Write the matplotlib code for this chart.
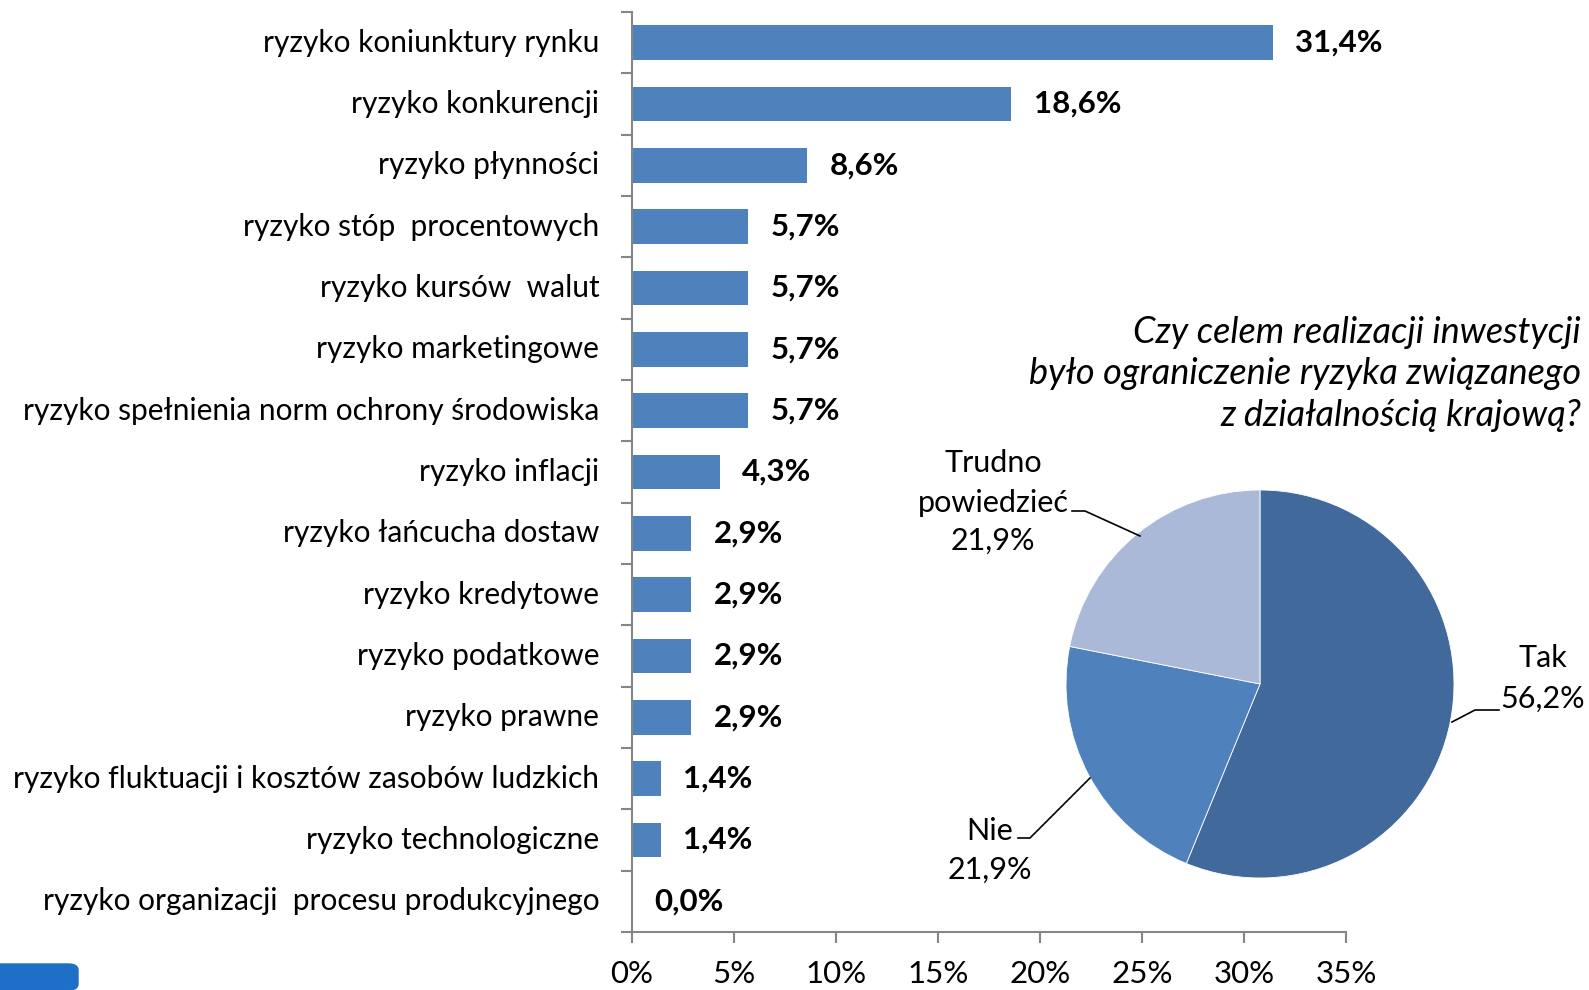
import matplotlib.pyplot as plt
from matplotlib.patches import FancyBboxPatch
import numpy as np

plt.rcParams['font.family'] = ['Lato', 'DejaVu Sans']

# bar chart data (top to bottom)
categories = [
    "ryzyko koniunktury rynku",
    "ryzyko konkurencji",
    "ryzyko płynności",
    "ryzyko stóp  procentowych",
    "ryzyko kursów  walut",
    "ryzyko marketingowe",
    "ryzyko spełnienia norm ochrony środowiska",
    "ryzyko inflacji",
    "ryzyko łańcucha dostaw",
    "ryzyko kredytowe",
    "ryzyko podatkowe",
    "ryzyko prawne",
    "ryzyko fluktuacji i kosztów zasobów ludzkich",
    "ryzyko technologiczne",
    "ryzyko organizacji  procesu produkcyjnego",
]
values = [31.4, 18.6, 8.6, 5.7, 5.7, 5.7, 5.7, 4.3, 2.9, 2.9, 2.9, 2.9, 1.4, 1.4, 0.0]
xticks = [0, 5, 10, 15, 20, 25, 30, 35]

# pie data
pie_labels = ["Tak", "Nie", "Trudno\npowiedzieć"]
pie_values = [56.2, 21.9, 21.9]
pie_colors = ["#41699C", "#4F81BD", "#AAB9D7"]
pie_title = "Czy celem realizacji inwestycji\nbyło ograniczenie ryzyka związanego\nz działalnością krajową?"

W, H = 1589, 990
fig = plt.figure(figsize=(W / 100, H / 100), dpi=100)

# --- bar chart
ax = fig.add_axes([632 / W, 1 - 932 / H, (1346 - 632) / W, (932 - 12) / H])
n = len(categories)
y = np.arange(n)
ax.barh(y, values, height=0.56, color="#4F81BD")
ax.set_ylim(n - 0.5, -0.5)
ax.set_xlim(0, 35)
for yi, v in zip(y, values):
    ax.text(v + 1.1, yi, f"{v:.1f}%".replace(".", ","), va="center", ha="left",
            fontsize=22.5, fontweight="bold")

gray = "#868686"
for s in ["top", "right"]:
    ax.spines[s].set_visible(False)
ax.spines["left"].set_color(gray)
ax.spines["bottom"].set_color(gray)
ax.spines["left"].set_linewidth(1.5)
ax.spines["bottom"].set_linewidth(1.5)

ax.set_xticks(xticks)
ax.set_xticklabels([f"{t}%" for t in xticks], fontsize=22.5)
ax.tick_params(axis="x", colors=gray, length=8, width=1.5, labelcolor="black", pad=12)
ax.set_yticks(np.arange(n + 1) - 0.5, minor=False)
ax.set_yticklabels([])
ax.tick_params(axis="y", colors=gray, length=8, width=1.5)
for yi, c in zip(y, categories):
    ax.text(-1.6, yi, c, ha="right", va="center", fontsize=21.5)

# --- pie chart
r_px = 194
cx, cy = 1260, 684
pax = fig.add_axes([(cx - r_px) / W, 1 - (cy + r_px) / H, 2 * r_px / W, 2 * r_px / H])
pax.pie(pie_values, colors=pie_colors, startangle=90, counterclock=False, radius=1,
        wedgeprops=dict(linewidth=0.6, edgecolor="white"))
pax.set_xlim(-1, 1)
pax.set_ylim(-1, 1)
pax.set_aspect("equal")
pax.axis("off")

def px(xp, yp):
    # figure pixel -> pie data coords
    return (xp - cx) / r_px, (cy - yp) / r_px

fs = 22
# Tak
pax.text(*px(1543, 658), "Tak", ha="center", va="center", fontsize=fs, clip_on=False)
pax.text(*px(1543, 699), "56,2%", ha="center", va="center", fontsize=fs, clip_on=False)
xs, ys = zip(px(1452, 722), px(1475, 710), px(1499, 710))
pax.plot(xs, ys, color="black", lw=1.2, clip_on=False)
# Nie
pax.text(*px(990, 831), "Nie", ha="center", va="center", fontsize=fs, clip_on=False)
pax.text(*px(990, 870), "21,9%", ha="center", va="center", fontsize=fs, clip_on=False)
xs, ys = zip(px(1090, 778), px(1030, 838), px(1018, 838))
pax.plot(xs, ys, color="black", lw=1.2, clip_on=False)
# Trudno powiedziec
pax.text(*px(993, 463), "Trudno", ha="center", va="center", fontsize=fs, clip_on=False)
pax.text(*px(993, 503), "powiedzieć", ha="center", va="center", fontsize=fs, clip_on=False)
pax.text(*px(993, 541), "21,9%", ha="center", va="center", fontsize=fs, clip_on=False)
xs, ys = zip(px(1072, 511), px(1085, 511), px(1140, 536))
pax.plot(xs, ys, color="black", lw=1.2, clip_on=False)

fig.text(1581 / W, 1 - 374 / H, pie_title, ha="right", va="center", fontsize=26,
         style="italic", linespacing=1.3)

# logo fragment bottom-left
logo = FancyBboxPatch((-10 / W, 0), 88 / W, 26 / H, boxstyle="round,pad=0,rounding_size=0.006",
                      transform=fig.transFigure, color="#1E6FC6", clip_on=False)
fig.patches.append(logo)

fig.savefig("out.png", dpi=100)
